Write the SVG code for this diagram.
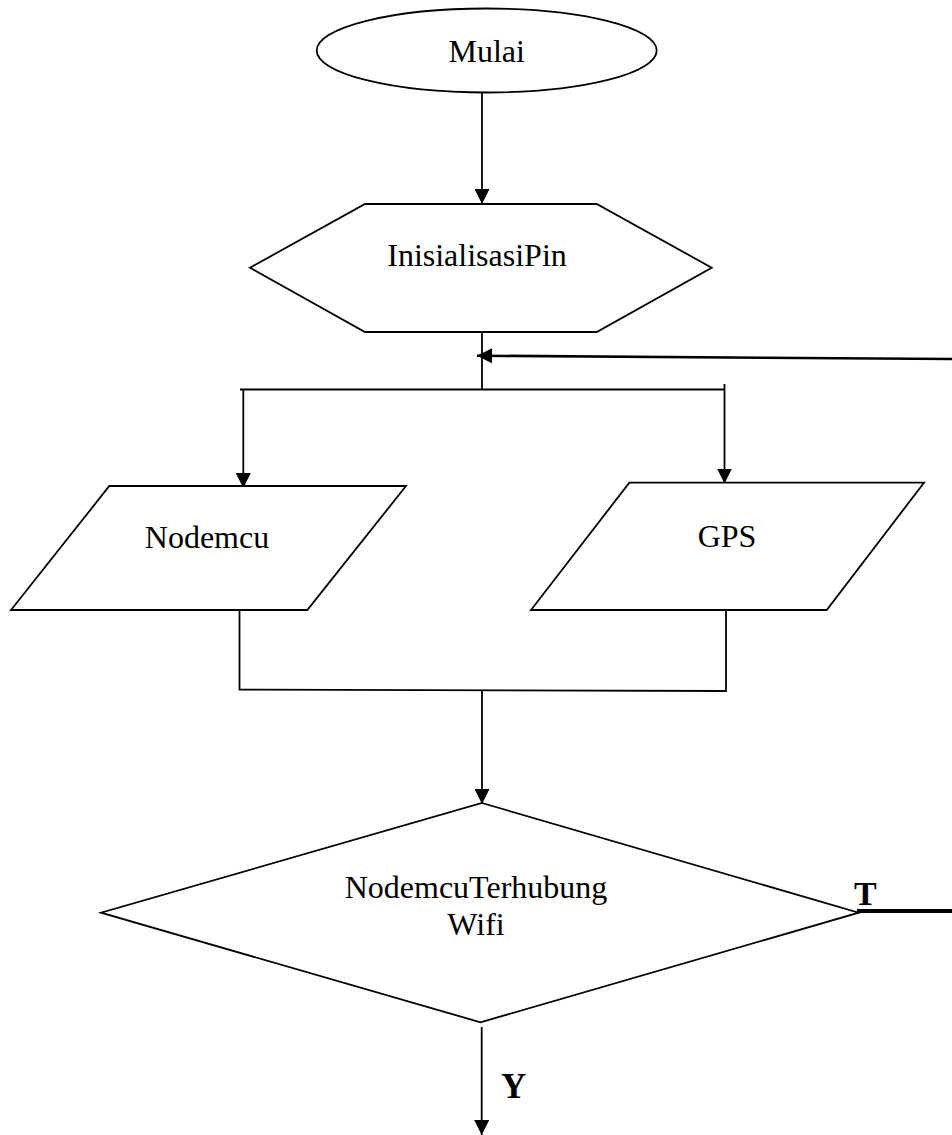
<svg xmlns="http://www.w3.org/2000/svg" width="952" height="1135" viewBox="0 0 952 1135">
<style>
.shape{fill:#fff;stroke:#000;stroke-width:1.8}
.line{fill:none;stroke:#000;stroke-width:1.8}
.lbl{font-family:"Liberation Serif","Times New Roman",serif;font-size:32px;fill:#000;text-anchor:middle}
.yt{font-family:"Liberation Serif","Times New Roman",serif;font-weight:bold;fill:#000}
</style>
<defs>
<marker id="arr" markerUnits="userSpaceOnUse" markerWidth="15" markerHeight="15" viewBox="0 0 15 15" refX="15" refY="7.5" orient="auto">
<path d="M0,0 L15,7.5 L0,15 z" fill="#000"/>
</marker>
</defs>
<rect width="952" height="1135" fill="#fff"/>
<g id="connectors">
<path class="line" d="M482,93 L482,204" marker-end="url(#arr)"/>
<path class="line" d="M482,332 L482,389.5"/>
<path class="line" style="stroke-width:2.6" d="M952,359 L477,355.7" marker-end="url(#arr)"/>
<path class="line" d="M240,389.5 L724.5,389.5"/>
<path class="line" d="M243.3,389.5 L243.3,488" marker-end="url(#arr)"/>
<path class="line" d="M724.5,384 L724.5,483.5" marker-end="url(#arr)"/>
<path class="line" d="M239.5,610 L239.5,689.5 L726,691 L726,610"/>
<path class="line" d="M482,691 L482,804" marker-end="url(#arr)"/>
<path class="line" style="stroke-width:4" d="M857,911 L952,911"/>
<path class="line" d="M481.7,1027 L481.7,1135" marker-end="url(#arr)"/>
</g>
<g id="mulai">
<ellipse class="shape" cx="486.7" cy="50.5" rx="170" ry="42"/>
<text class="lbl" x="486.7" y="61.5">Mulai</text>
</g>
<g id="inisialisasi">
<polygon class="shape" points="365,204 596.7,204 711.7,267.7 596.7,332 365,332 250,267.7"/>
<text class="lbl" x="477" y="265.7">InisialisasiPin</text>
</g>
<g id="nodemcu">
<polygon class="shape" points="109.3,486 406,486 307.3,610 11,610"/>
<text class="lbl" x="207" y="548.3">Nodemcu</text>
</g>
<g id="gps">
<polygon class="shape" points="629.3,482.7 924,482.7 826.7,610 531,610"/>
<text class="lbl" x="727" y="546.7">GPS</text>
</g>
<g id="decision">
<polygon class="shape" points="482,803 858.7,912.7 480.5,1022.3 101,912.7"/>
<text class="lbl" x="476" y="898">NodemcuTerhubung</text>
<text class="lbl" x="476" y="935">Wifi</text>
</g>
<g id="labels">
<text class="yt" x="854" y="905" font-size="34">T</text>
<text class="yt" x="501" y="1098" font-size="35">Y</text>
</g>
</svg>
